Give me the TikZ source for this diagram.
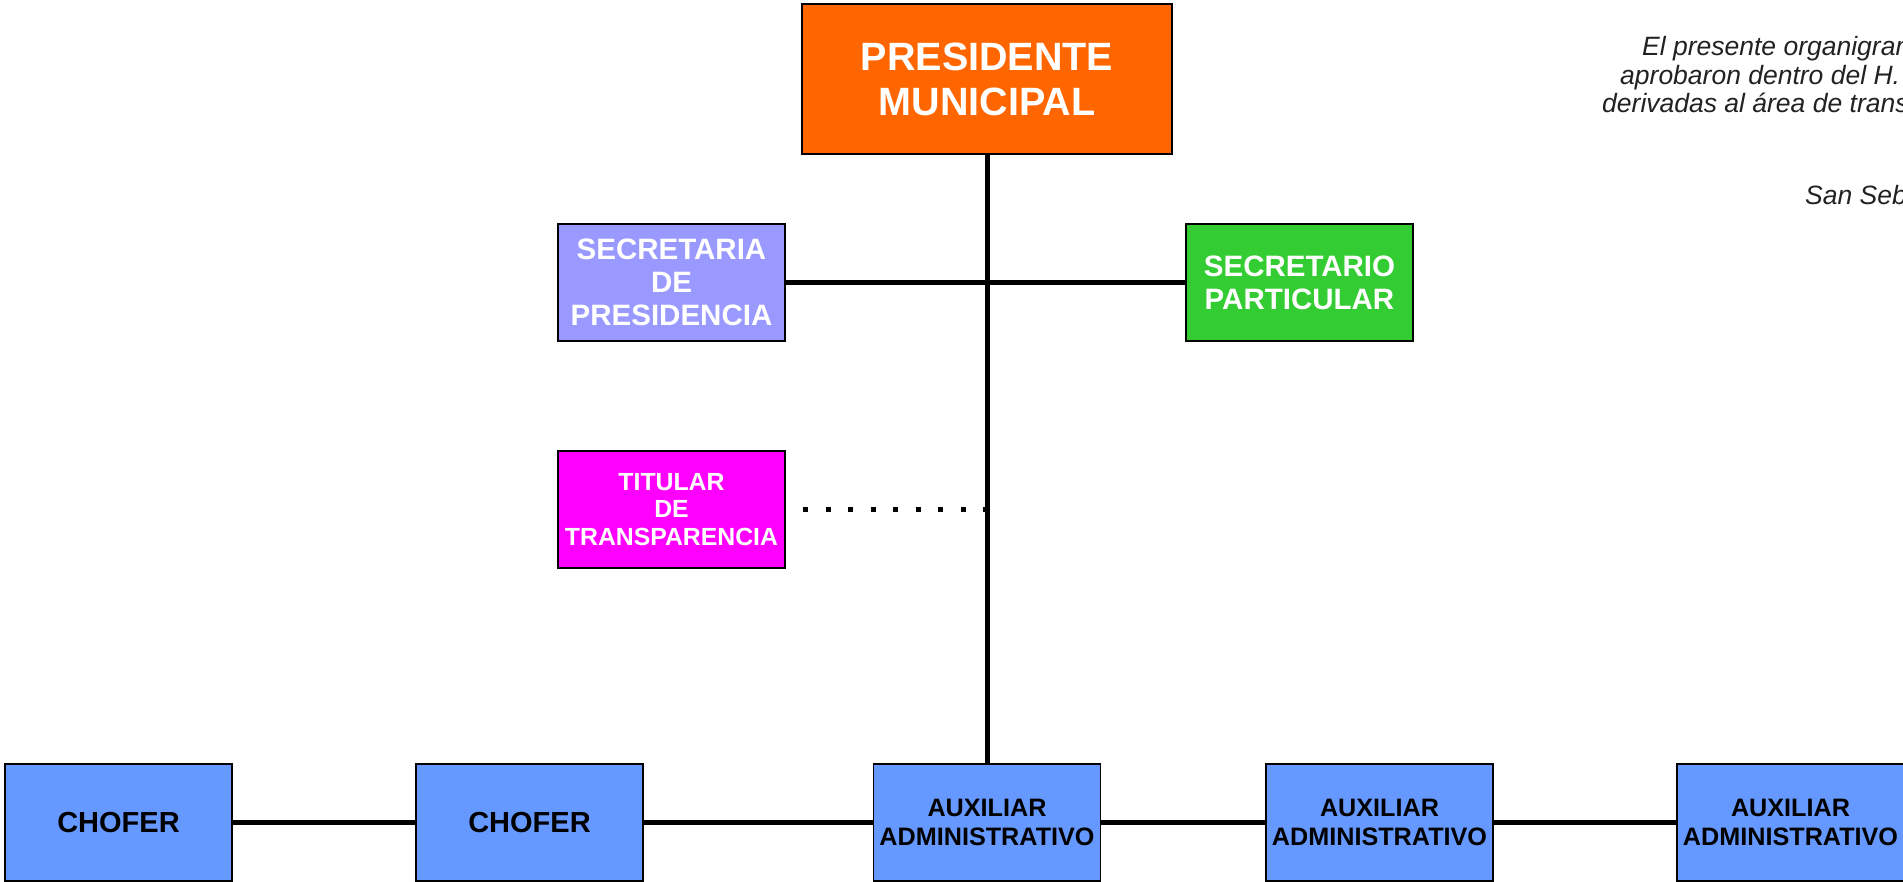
\documentclass[tikz,border=0pt]{standalone}
\usepackage{fontspec}
\setmainfont{Liberation Sans}
\definecolor{presorange}{HTML}{FF6600}
\definecolor{seclav}{HTML}{9999FF}
\definecolor{secgreen}{HTML}{33CC33}
\definecolor{titmag}{HTML}{FF00FF}
\definecolor{auxblue}{HTML}{6699FF}
\definecolor{notegray}{HTML}{222222}
\begin{document}
\begin{tikzpicture}[x=1pt,y=-1pt,
  box/.style={draw=black, line width=1.4pt, inner sep=0pt, minimum width=227pt, minimum height=117pt, align=center, font=\bfseries},
  conn/.style={line width=5pt, black},
  dotconn/.style={line width=5pt, black, dash pattern=on 5pt off 17.5pt},
  note/.style={anchor=base west, inner sep=0pt, font=\itshape\fontsize{26.5}{28.5}\selectfont, text=notegray}]
\useasboundingbox (0,0) rectangle (1903,882);
\clip (0,0) rectangle (1903,882);
\fill[white] (0,0) rectangle (1903,882);
% nodes
\node[box, fill=presorange, text=white, minimum width=370pt, minimum height=150pt,
  font=\bfseries\fontsize{39.5}{45}\selectfont] (pres) at (987,79) {PRESIDENTE\\MUNICIPAL};
\node[box, fill=seclav, text=white, font=\bfseries\fontsize{29.5}{33}\selectfont] (sec) at (671.5,282.5) {SECRETARIA\\DE\\PRESIDENCIA};
\node[box, fill=secgreen, text=white, font=\bfseries\fontsize{29.5}{33}\selectfont] (part) at (1299.5,282.5) {SECRETARIO\\PARTICULAR};
\node[box, fill=titmag, text=white, font=\bfseries\fontsize{24.8}{27.5}\selectfont] (tit) at (671.5,509.5) {TITULAR\\DE\\TRANSPARENCIA};
\node[box, fill=auxblue, text=black, font=\bfseries\fontsize{29}{33}\selectfont] (ch1) at (118.5,822.5) {CHOFER};
\node[box, fill=auxblue, text=black, font=\bfseries\fontsize{29}{33}\selectfont] (ch2) at (529.5,822.5) {CHOFER};
\node[box, fill=auxblue, text=black, font=\bfseries\fontsize{25.2}{29}\selectfont] (aux1) at (987,822.5) {AUXILIAR\\ADMINISTRATIVO};
\node[box, fill=auxblue, text=black, font=\bfseries\fontsize{25.2}{29}\selectfont] (aux2) at (1379.5,822.5) {AUXILIAR\\ADMINISTRATIVO};
\node[box, fill=auxblue, text=black, font=\bfseries\fontsize{25.2}{29}\selectfont] (aux3) at (1790.5,822.5) {AUXILIAR\\ADMINISTRATIVO};
% connectors
\coordinate (dotend) at ([xshift=1.5pt]tit.east -| pres.south);
\draw[dotconn, shorten <=17.5pt] (tit.east) -- (dotend);
\draw[conn] (pres.south) -- (aux1.north);
\draw[conn] (sec.east) -- (part.west);
\draw[conn] (ch1.east) -- (ch2.west);
\draw[conn] (ch2.east) -- (aux1.west);
\draw[conn] (aux1.east) -- (aux2.west);
\draw[conn] (aux2.east) -- (aux3.west);
% note text (cut off at the right edge)
\node[note] (n1) at (1642,56) {El presente organigram};
\node[note] (n2) at (1620,84.5) {aprobaron dentro del H.};
\node[note] (n3) at (1602,113) {derivadas al área de trans};
\node[note] (n4) at (1805,205) {San Seb};
\end{tikzpicture}
\end{document}
